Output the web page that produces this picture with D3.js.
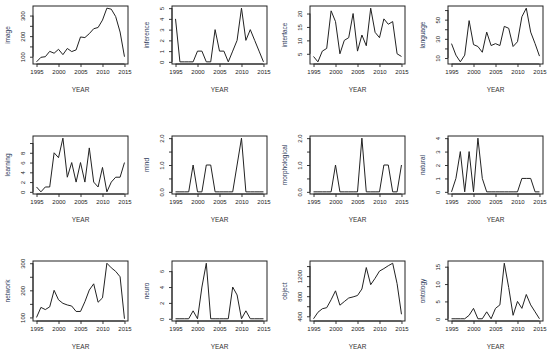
<!DOCTYPE html>
<html>
<head>
<meta charset="utf-8">
<script src="https://cdn.jsdelivr.net/npm/d3@7"></script>
<style>
body { margin: 0; background: #fff; }
</style>
</head>
<body>
<div id="canvas"></div>
<script>
var years = [1995, 1996, 1997, 1998, 1999, 2000, 2001, 2002, 2003, 2004, 2005,
    2006, 2007, 2008, 2009, 2010, 2011, 2012, 2013, 2014, 2015];
var xTicks = [1995, 2000, 2005, 2010, 2015];

var imageCounts = [75, 97, 100, 126, 117, 136, 110, 140, 125, 133, 196, 193, 212, 236, 242, 278, 336, 331, 295, 220, 100];
var inferenceCounts = [4, 0, 0, 0, 0, 1, 1, 0, 0, 3, 1, 1, 0, 1, 2, 5, 2, 3, 2, 1, 0];
var interfaceCounts = [4, 2, 6, 7, 21, 17, 5, 10, 11, 20, 6, 12, 8, 22, 13, 11, 18, 16, 17, 5, 4];
var languageCounts = [25, 13, 6, 13, 49, 24, 22, 16, 37, 23, 25, 23, 43, 41, 22, 27, 53, 62, 37, 25, 12];
var learningCounts = [1, 0, 1, 1, 8, 7, 11, 3, 6, 2, 6, 2, 9, 2, 1, 5, 0, 2, 3, 3, 6];
var mindCounts = [0, 0, 0, 0, 1, 0, 0, 1, 1, 0, 0, 0, 0, 0, 1, 2, 0, 0, 0, 0, 0];
var morphologicalCounts = [0, 0, 0, 0, 0, 1, 0, 0, 0, 0, 0, 2, 0, 0, 0, 0, 1, 1, 0, 0, 1];
var naturalCounts = [0, 1, 3, 0, 3, 0, 4, 1, 0, 0, 0, 0, 0, 0, 0, 0, 1, 1, 1, 0, 0];
var networkCounts = [100, 137, 129, 139, 200, 165, 152, 146, 142, 122, 122, 158, 201, 224, 156, 172, 300, 283, 270, 250, 95];
var neuroCounts = [0, 0, 0, 0, 1, 0, 4, 7, 0, 0, 0, 0, 0, 4, 3, 0, 1, 0, 0, 0, 0];
var objectCounts = [350, 479, 550, 571, 729, 907, 621, 693, 764, 786, 814, 943, 1371, 1029, 1157, 1300, 1350, 1407, 1457, 1050, 440];
var ontologyCounts = [0, 0, 0, 0, 1, 3, 0, 0, 2, 0, 3, 4, 16, 9, 1, 5, 3, 7, 4, 2, 0];

var terms = ['image', 'inference', 'interface', 'language',
    'learning', 'mind', 'morphological', 'natural',
    'network', 'neuro', 'object', 'ontology'];

// y tick positions and which of them get a label
var imageTicks = [100, 150, 200, 250, 300], imageLabels = [100, 200, 300];
var inferenceTicks = [0, 1, 2, 3, 4, 5], inferenceLabels = [0, 1, 2, 3, 4, 5];
var interfaceTicks = [5, 10, 15, 20], interfaceLabels = [5, 10, 15, 20];
var languageTicks = [10, 20, 30, 40, 50, 60], languageLabels = [10, 30, 50];
var learningTicks = [0, 2, 4, 6, 8, 10], learningLabels = [0, 2, 4, 6, 8];
var mindTicks = [0, 0.5, 1, 1.5, 2], mindLabels = [0, 1, 2];
var morphologicalTicks = [0, 0.5, 1, 1.5, 2], morphologicalLabels = [0, 1, 2];
var naturalTicks = [0, 1, 2, 3, 4], naturalLabels = [0, 1, 2, 3, 4];
var networkTicks = [100, 150, 200, 250, 300], networkLabels = [100, 200, 300];
var neuroTicks = [0, 2, 4, 6], neuroLabels = [0, 2, 4, 6];
var objectTicks = [400, 600, 800, 1000, 1200, 1400], objectLabels = [400, 800, 1200];
var ontologyTicks = [0, 5, 10, 15], ontologyLabels = [0, 5, 10, 15];

var panels = [
    {name: terms[0], values: imageCounts, ticks: imageTicks, labels: imageLabels},
    {name: terms[1], values: inferenceCounts, ticks: inferenceTicks, labels: inferenceLabels},
    {name: terms[2], values: interfaceCounts, ticks: interfaceTicks, labels: interfaceLabels},
    {name: terms[3], values: languageCounts, ticks: languageTicks, labels: languageLabels},
    {name: terms[4], values: learningCounts, ticks: learningTicks, labels: learningLabels},
    {name: terms[5], values: mindCounts, ticks: mindTicks, labels: mindLabels, fmt: '.1f'},
    {name: terms[6], values: morphologicalCounts, ticks: morphologicalTicks, labels: morphologicalLabels, fmt: '.1f'},
    {name: terms[7], values: naturalCounts, ticks: naturalTicks, labels: naturalLabels},
    {name: terms[8], values: networkCounts, ticks: networkTicks, labels: networkLabels},
    {name: terms[9], values: neuroCounts, ticks: neuroTicks, labels: neuroLabels},
    {name: terms[10], values: objectCounts, ticks: objectTicks, labels: objectLabels},
    {name: terms[11], values: ontologyCounts, ticks: ontologyTicks, labels: ontologyLabels}
];

var svgWidth = 550;
var svgHeight = 356;
var colLeft = [33, 172, 310, 448];
var rowTop = [6, 136, 261];
var rowHeight = [58, 58, 60];
var plotWidth = 95;
var fontFamily = "'Liberation Sans', Arial, sans-serif";
var textColor = '#222';
var labelColor = '#2c3a5a';
var inkColor = '#222';

var svg = d3.select('#canvas')
    .append('svg')
    .attr('width', svgWidth)
    .attr('height', svgHeight)
    .style('display', 'block')
    .style('background-color', 'white');

panels.forEach(function (p, i) {
    drawPanel(p, colLeft[i % 4], rowTop[Math.floor(i / 4)], plotWidth, rowHeight[Math.floor(i / 4)]);
});

// pad the range by 4% on each side like R does
function padded(lo, hi) {
    var r = hi - lo;
    return [lo - r * 0.04, hi + r * 0.04];
}

function drawPanel(p, left, top, w, h) {
    var g = svg.append('g').attr('transform', 'translate(' + left + ',' + top + ')');
    var x = d3.scaleLinear().domain(padded(years[0], years[years.length - 1])).range([0, w]);
    var y = d3.scaleLinear().domain(padded(d3.min(p.values), d3.max(p.values))).range([h, 0]);
    var fmt = p.fmt ? d3.format(p.fmt) : d3.format('d');

    var xAxis = g.append('g')
        .attr('transform', 'translate(0,' + h + ')')
        .call(d3.axisBottom(x).tickValues(xTicks).tickSize(3).tickPadding(3).tickFormat(d3.format('d')));
    var yAxis = g.append('g')
        .call(d3.axisLeft(y).tickValues(p.ticks).tickSize(3).tickPadding(2)
            .tickFormat(function (d) { return p.labels.indexOf(d) >= 0 ? fmt(d) : ''; }));

    [xAxis, yAxis].forEach(function (a) {
        a.select('.domain').attr('stroke', inkColor).attr('stroke-width', 0.9);
        a.selectAll('.tick line').attr('stroke', inkColor).attr('stroke-width', 0.9);
        a.selectAll('.tick text')
            .attr('fill', textColor)
            .attr('font-family', fontFamily)
            .attr('font-size', '6px');
    });
    xAxis.select('.domain').attr('d', 'M' + x(xTicks[0]) + ',0H' + x(xTicks[xTicks.length - 1]));
    yAxis.select('.domain').attr('d', 'M0,' + y(p.ticks[0]) + 'V' + y(p.ticks[p.ticks.length - 1]));
    // R writes y labels turned up along the axis
    yAxis.selectAll('.tick text')
        .attr('x', null).attr('dy', null)
        .attr('text-anchor', 'middle')
        .attr('transform', 'translate(-8,0) rotate(-90)');

    g.append('rect')
        .attr('width', w)
        .attr('height', h)
        .attr('fill', 'none')
        .attr('stroke', inkColor)
        .attr('stroke-width', 1);

    var line = d3.line()
        .x(function (d, k) { return x(years[k]); })
        .y(function (d) { return y(d); });
    g.append('path')
        .datum(p.values)
        .attr('d', line)
        .attr('fill', 'none')
        .attr('stroke', inkColor)
        .attr('stroke-width', 1);

    g.append('text')
        .attr('x', w / 2)
        .attr('y', h + 28)
        .text('YEAR')
        .attr('text-anchor', 'middle')
        .attr('fill', '#333')
        .attr('font-family', fontFamily)
        .attr('font-size', '6.5px');

    g.append('text')
        .attr('transform', 'translate(-23,' + h / 2 + ') rotate(-90)')
        .text(p.name)
        .attr('text-anchor', 'middle')
        .attr('fill', labelColor)
        .attr('font-family', fontFamily)
        .attr('font-size', '6.5px');
}
</script>
</body>
</html>
